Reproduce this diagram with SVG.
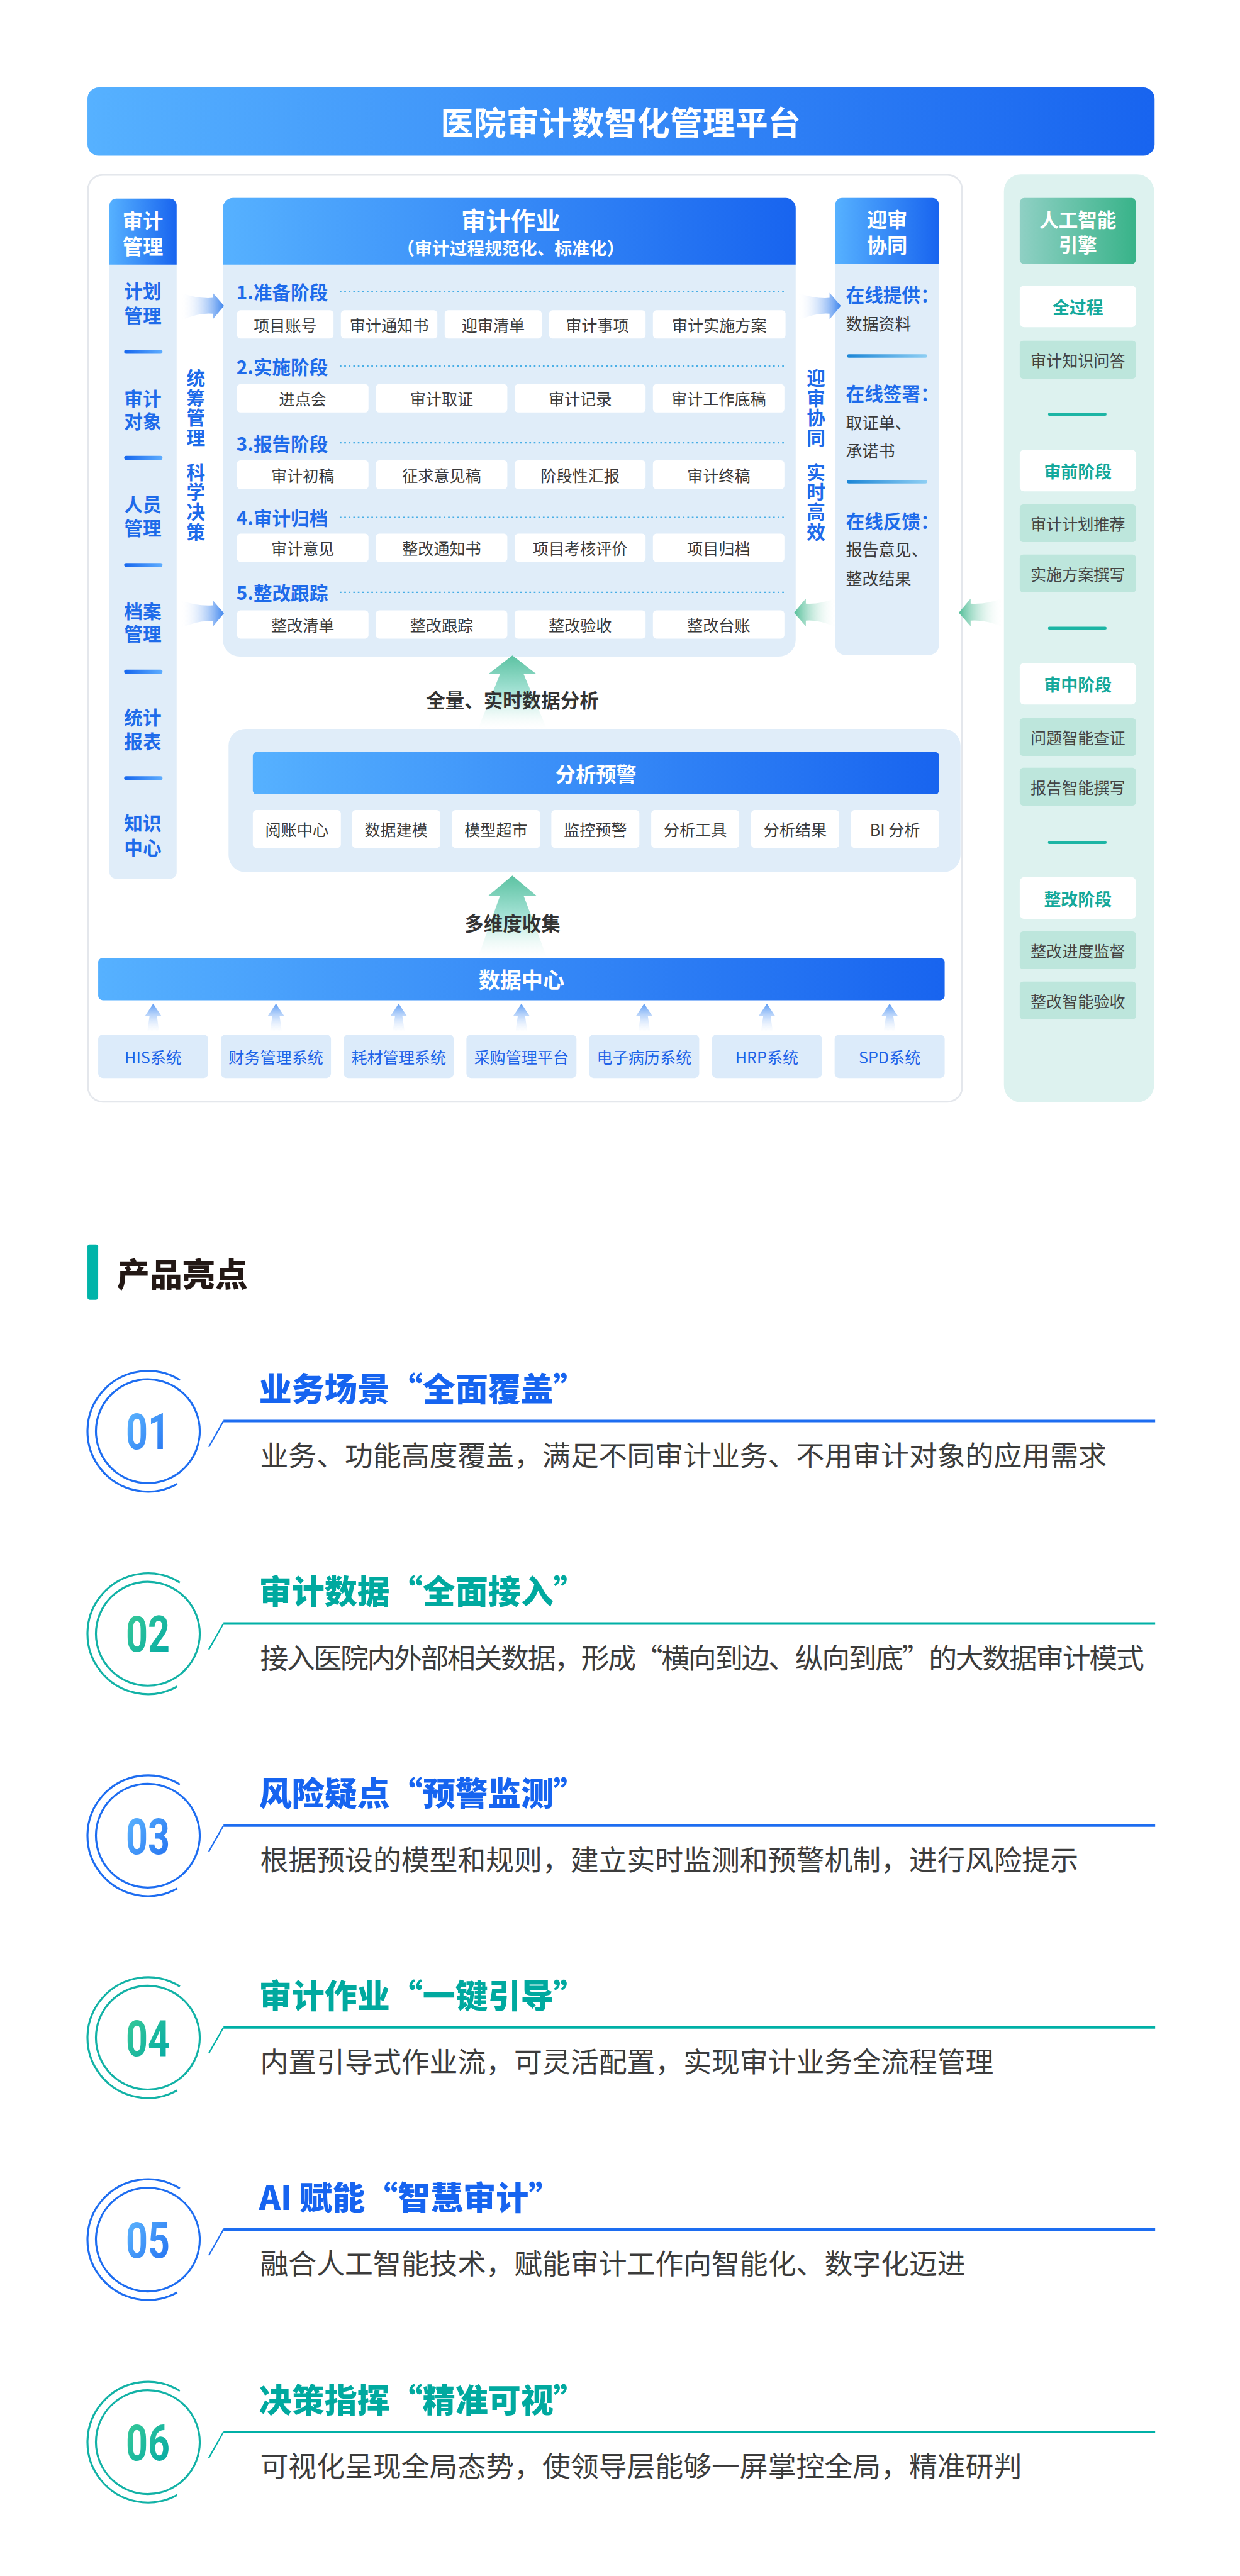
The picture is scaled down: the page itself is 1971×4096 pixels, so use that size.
<svg xmlns="http://www.w3.org/2000/svg" width="1971" height="4096" viewBox="0 0 1971 4096">
<defs>
<linearGradient id="gHead" x1="0" y1="0" x2="1" y2="0"><stop offset="0" stop-color="#56B1FF"/><stop offset="1" stop-color="#1864EF"/></linearGradient>
<linearGradient id="gAI" x1="0" y1="0" x2="1" y2="0"><stop offset="0" stop-color="#8FD0C4"/><stop offset="1" stop-color="#38B389"/></linearGradient>
<linearGradient id="gArrB" x1="0" y1="0" x2="1" y2="0"><stop offset="0" stop-color="#FFFFFF" stop-opacity="0"/><stop offset="1" stop-color="#3F86EE"/></linearGradient>
<linearGradient id="gArrG" x1="1" y1="0" x2="0" y2="0"><stop offset="0" stop-color="#FFFFFF" stop-opacity="0"/><stop offset="1" stop-color="#52BE98"/></linearGradient>
<linearGradient id="gUpG" x1="0" y1="0" x2="0" y2="1"><stop offset="0" stop-color="#5CC2A2"/><stop offset="0.5" stop-color="#A6E3D6"/><stop offset="1" stop-color="#FFFFFF" stop-opacity="0.2"/></linearGradient>
<linearGradient id="gUpB" x1="0" y1="0" x2="0" y2="1"><stop offset="0" stop-color="#5B9BF4"/><stop offset="1" stop-color="#FFFFFF" stop-opacity="0.3"/></linearGradient>
<linearGradient id="gDivB" x1="0" y1="0" x2="1" y2="0"><stop offset="0" stop-color="#1666EE"/><stop offset="1" stop-color="#5EADFF"/></linearGradient>
<linearGradient id="gDivC" x1="0" y1="0" x2="1" y2="0"><stop offset="0" stop-color="#1C86D6"/><stop offset="1" stop-color="#8FCFF4"/></linearGradient>
<linearGradient id="gNumB" x1="0" y1="0" x2="1" y2="1"><stop offset="0" stop-color="#62BBFF"/><stop offset="1" stop-color="#1F6DF0"/></linearGradient>
<linearGradient id="gNumT" x1="0" y1="0" x2="1" y2="1"><stop offset="0" stop-color="#3CCB96"/><stop offset="1" stop-color="#00A8A6"/></linearGradient>
<style>
text{font-family:"Noto Sans CJK SC","Noto Sans",sans-serif;}
.wt{fill:#FFFFFF;font-weight:700;text-anchor:middle;dominant-baseline:central;}
.lc{fill:#1E6BEA;font-weight:700;font-size:33px;text-anchor:middle;dominant-baseline:central;}
.vt{fill:#1E6BEA;font-weight:700;font-size:33px;text-anchor:middle;writing-mode:vertical-rl;letter-spacing:2.5px;}
.st{fill:#1E6BEA;font-weight:700;font-size:33px;dominant-baseline:central;}
.bx{fill:#FFFFFF;}
.bt{fill:#3A3A3A;font-size:28px;text-anchor:middle;dominant-baseline:central;}
.dot{stroke:#47AEE6;stroke-width:2.5;stroke-dasharray:3 5;fill:none;}
.ol{fill:#1E6BEA;font-weight:700;font-size:33px;dominant-baseline:central;}
.od{fill:#3A3A3A;font-size:29px;dominant-baseline:central;}
.aiw{fill:#FFFFFF;}
.aiwt{fill:#15A99C;font-weight:700;font-size:30px;text-anchor:middle;dominant-baseline:central;}
.aig{fill:#BDE6DC;}
.aigt{fill:#444444;font-size:28px;text-anchor:middle;dominant-baseline:central;}
.sys{fill:#DCEBFA;}
.syt{fill:#1E63E8;font-size:28px;text-anchor:middle;dominant-baseline:central;}
.lab{fill:#333333;font-weight:700;font-size:34px;text-anchor:middle;dominant-baseline:central;}
.ht{font-weight:900;font-size:58px;dominant-baseline:central;}
.hd{fill:#3C3C3C;font-size:50px;dominant-baseline:central;}
.num{font-family:Roboto,"Noto Sans",sans-serif;font-weight:700;font-size:88px;text-anchor:middle;}
</style>
</defs>
<g transform="scale(0.897)">
<rect width="2197" height="4565" fill="#FFFFFF"/>

<g id="title">
<rect x="155" y="155" width="1891" height="121" rx="20" fill="url(#gHead)"/>
<text class="wt" x="1100" y="215" font-size="58">医院审计数智化管理平台</text>
</g>

<g id="main-panel">
<rect x="156" y="310" width="1549" height="1643" rx="26" fill="#FFFFFF" stroke="#E4E7EC" stroke-width="3"/>
</g>

<g id="ai-panel">
<rect x="1779" y="309" width="266" height="1645" rx="30" fill="#DDF2EF"/>
</g>

<g id="audit-mgmt">
<path d="M194,364 a12,12 0 0 1 12,-12 h95 a12,12 0 0 1 12,12 V1546 a12,12 0 0 1 -12,12 h-95 a12,12 0 0 1 -12,-12 Z" fill="#E0EDF9"/>
<path d="M194,364 a12,12 0 0 1 12,-12 h95 a12,12 0 0 1 12,12 V469 H194 Z" fill="url(#gHead)"/>
<text class="wt" x="253" y="389" font-size="36">审计<tspan x="253" dy="46">管理</tspan></text>
<text class="lc" x="253" y="515">计划<tspan x="253" dy="42">管理</tspan></text>
<rect x="220" y="620" width="68" height="7" rx="3.5" fill="url(#gDivB)"/>
<text class="lc" x="253" y="705">审计<tspan x="253" dy="40">对象</tspan></text>
<rect x="220" y="808" width="68" height="7" rx="3.5" fill="url(#gDivB)"/>
<text class="lc" x="253" y="892">人员<tspan x="253" dy="42">管理</tspan></text>
<rect x="220" y="998" width="68" height="7" rx="3.5" fill="url(#gDivB)"/>
<text class="lc" x="253" y="1082">档案<tspan x="253" dy="40">管理</tspan></text>
<rect x="220" y="1187" width="68" height="7" rx="3.5" fill="url(#gDivB)"/>
<text class="lc" x="253" y="1270">统计<tspan x="253" dy="42">报表</tspan></text>
<rect x="220" y="1376" width="68" height="7" rx="3.5" fill="url(#gDivB)"/>
<text class="lc" x="253" y="1458">知识<tspan x="253" dy="42">中心</tspan></text>
</g>

<g id="left-vertical">
<text class="vt" x="347" y="724">统筹管理</text>
<text class="vt" x="347" y="891">科学决策</text>
</g>

<g id="audit-work">
<path d="M395,369 a18,18 0 0 1 18,-18 H1392 a18,18 0 0 1 18,18 V1134 a30,30 0 0 1 -30,30 H425 a30,30 0 0 1 -30,-30 Z" fill="#E0EDF9"/>
<path d="M395,369 a18,18 0 0 1 18,-18 H1392 a18,18 0 0 1 18,18 V469 H395 Z" fill="url(#gHead)"/>
<text class="wt" x="905" y="388" font-size="44">审计作业</text>
<text class="wt" x="905" y="438" font-size="31">（审计过程规范化、标准化）</text>

<text class="st" x="419" y="517">1.准备阶段</text>
<line class="dot" x1="602" y1="517" x2="1390" y2="517"/>
<rect class="bx" x="420" y="550" width="171" height="50" rx="6"/><text class="bt" x="505.5" y="575">项目账号</text>
<rect class="bx" x="604" y="550" width="171" height="50" rx="6"/><text class="bt" x="689.5" y="575">审计通知书</text>
<rect class="bx" x="788" y="550" width="172" height="50" rx="6"/><text class="bt" x="874" y="575">迎审清单</text>
<rect class="bx" x="973" y="550" width="171" height="50" rx="6"/><text class="bt" x="1058.5" y="575">审计事项</text>
<rect class="bx" x="1157" y="550" width="235" height="50" rx="6"/><text class="bt" x="1274.5" y="575">审计实施方案</text>

<text class="st" x="419" y="649">2.实施阶段</text>
<line class="dot" x1="602" y1="649" x2="1390" y2="649"/>
<rect class="bx" x="420" y="681" width="233" height="50" rx="6"/><text class="bt" x="536.5" y="706">进点会</text>
<rect class="bx" x="666" y="681" width="233" height="50" rx="6"/><text class="bt" x="782.5" y="706">审计取证</text>
<rect class="bx" x="912" y="681" width="232" height="50" rx="6"/><text class="bt" x="1028" y="706">审计记录</text>
<rect class="bx" x="1157" y="681" width="233" height="50" rx="6"/><text class="bt" x="1273.5" y="706">审计工作底稿</text>

<text class="st" x="419" y="785">3.报告阶段</text>
<line class="dot" x1="602" y1="785" x2="1390" y2="785"/>
<rect class="bx" x="420" y="816" width="233" height="51" rx="6"/><text class="bt" x="536.5" y="841.5">审计初稿</text>
<rect class="bx" x="666" y="816" width="233" height="51" rx="6"/><text class="bt" x="782.5" y="841.5">征求意见稿</text>
<rect class="bx" x="912" y="816" width="232" height="51" rx="6"/><text class="bt" x="1028" y="841.5">阶段性汇报</text>
<rect class="bx" x="1157" y="816" width="233" height="51" rx="6"/><text class="bt" x="1273.5" y="841.5">审计终稿</text>

<text class="st" x="419" y="917">4.审计归档</text>
<line class="dot" x1="602" y1="917" x2="1390" y2="917"/>
<rect class="bx" x="420" y="946" width="233" height="50" rx="6"/><text class="bt" x="536.5" y="971">审计意见</text>
<rect class="bx" x="666" y="946" width="233" height="50" rx="6"/><text class="bt" x="782.5" y="971">整改通知书</text>
<rect class="bx" x="912" y="946" width="232" height="50" rx="6"/><text class="bt" x="1028" y="971">项目考核评价</text>
<rect class="bx" x="1157" y="946" width="233" height="50" rx="6"/><text class="bt" x="1273.5" y="971">项目归档</text>

<text class="st" x="419" y="1050">5.整改跟踪</text>
<line class="dot" x1="602" y1="1050" x2="1390" y2="1050"/>
<rect class="bx" x="420" y="1082" width="233" height="50" rx="6"/><text class="bt" x="536.5" y="1107">整改清单</text>
<rect class="bx" x="666" y="1082" width="233" height="50" rx="6"/><text class="bt" x="782.5" y="1107">整改跟踪</text>
<rect class="bx" x="912" y="1082" width="232" height="50" rx="6"/><text class="bt" x="1028" y="1107">整改验收</text>
<rect class="bx" x="1157" y="1082" width="233" height="50" rx="6"/><text class="bt" x="1273.5" y="1107">整改台账</text>
</g>

<g id="right-vertical">
<text class="vt" x="1446" y="724">迎审协同</text>
<text class="vt" x="1446" y="891">实时高效</text>
</g>

<g id="audit-collab">
<path d="M1480,363 a12,12 0 0 1 12,-12 H1652 a12,12 0 0 1 12,12 V1143 a18,18 0 0 1 -18,18 H1498 a18,18 0 0 1 -18,-18 Z" fill="#E0EDF9"/>
<path d="M1480,363 a12,12 0 0 1 12,-12 H1652 a12,12 0 0 1 12,12 V468 H1480 Z" fill="url(#gHead)"/>
<text class="wt" x="1572" y="387" font-size="36">迎审<tspan x="1572" dy="46">协同</tspan></text>
<text class="ol" x="1499" y="521">在线提供：</text>
<text class="od" x="1499" y="573">数据资料</text>
<rect x="1501" y="628" width="142" height="6" rx="3" fill="url(#gDivC)"/>
<text class="ol" x="1499" y="696">在线签署：</text>
<text class="od" x="1499" y="747">取证单、<tspan x="1499" dy="50">承诺书</tspan></text>
<rect x="1501" y="851" width="142" height="6" rx="3" fill="url(#gDivC)"/>
<text class="ol" x="1499" y="923">在线反馈：</text>
<text class="od" x="1499" y="973">报告意见、<tspan x="1499" dy="50">整改结果</tspan></text>
</g>

<g id="ai-engine">
<rect x="1807" y="351" width="206" height="117" rx="8" fill="url(#gAI)"/>
<text class="wt" x="1910" y="388" font-size="34">人工智能<tspan x="1910" dy="44">引擎</tspan></text>
<rect class="aiw" x="1807" y="506" width="206" height="74" rx="8"/><text class="aiwt" x="1910" y="543">全过程</text>
<rect class="aig" x="1807" y="604" width="206" height="67" rx="6"/><text class="aigt" x="1910" y="637.5">审计知识问答</text>
<rect x="1857" y="732" width="104" height="5" rx="2.5" fill="#1CB5A4"/>
<rect class="aiw" x="1807" y="797" width="206" height="74" rx="8"/><text class="aiwt" x="1910" y="834">审前阶段</text>
<rect class="aig" x="1807" y="894" width="206" height="67" rx="6"/><text class="aigt" x="1910" y="927.5">审计计划推荐</text>
<rect class="aig" x="1807" y="983" width="206" height="67" rx="6"/><text class="aigt" x="1910" y="1016.5">实施方案撰写</text>
<rect x="1857" y="1111" width="104" height="5" rx="2.5" fill="#1CB5A4"/>
<rect class="aiw" x="1807" y="1175" width="206" height="74" rx="8"/><text class="aiwt" x="1910" y="1212">审中阶段</text>
<rect class="aig" x="1807" y="1273" width="206" height="67" rx="6"/><text class="aigt" x="1910" y="1306.5">问题智能查证</text>
<rect class="aig" x="1807" y="1361" width="206" height="67" rx="6"/><text class="aigt" x="1910" y="1394.5">报告智能撰写</text>
<rect x="1857" y="1491" width="104" height="5" rx="2.5" fill="#1CB5A4"/>
<rect class="aiw" x="1807" y="1555" width="206" height="74" rx="8"/><text class="aiwt" x="1910" y="1592">整改阶段</text>
<rect class="aig" x="1807" y="1651" width="206" height="67" rx="6"/><text class="aigt" x="1910" y="1684.5">整改进度监督</text>
<rect class="aig" x="1807" y="1740" width="206" height="67" rx="6"/><text class="aigt" x="1910" y="1773.5">整改智能验收</text>
</g>

<g id="analysis">
<rect x="405" y="1292" width="1297" height="254" rx="30" fill="#E0EDF9"/>
<rect x="448" y="1333" width="1216" height="75" rx="7" fill="url(#gHead)"/>
<text class="wt" x="1056" y="1370" font-size="36">分析预警</text>
<rect class="bx" x="448" y="1436" width="156" height="67" rx="6"/><text class="bt" x="526" y="1469.5">阅账中心</text>
<rect class="bx" x="624" y="1436" width="156" height="67" rx="6"/><text class="bt" x="702" y="1469.5">数据建模</text>
<rect class="bx" x="801" y="1436" width="156" height="67" rx="6"/><text class="bt" x="879" y="1469.5">模型超市</text>
<rect class="bx" x="977" y="1436" width="156" height="67" rx="6"/><text class="bt" x="1055" y="1469.5">监控预警</text>
<rect class="bx" x="1154" y="1436" width="156" height="67" rx="6"/><text class="bt" x="1232" y="1469.5">分析工具</text>
<rect class="bx" x="1331" y="1436" width="156" height="67" rx="6"/><text class="bt" x="1409" y="1469.5">分析结果</text>
<rect class="bx" x="1508" y="1436" width="156" height="67" rx="6"/><text class="bt" x="1586" y="1469.5">BI 分析</text>
</g>

<g id="data-center">
<rect x="174" y="1698" width="1500" height="75" rx="8" fill="url(#gHead)"/>
<text class="wt" x="924" y="1735" font-size="38">数据中心</text>
</g>

<g id="systems">
<rect class="sys" x="174" y="1834" width="195" height="77" rx="8"/><text class="syt" x="271.5" y="1872.5">HIS系统</text>
<rect class="sys" x="391.5" y="1834" width="195" height="77" rx="8"/><text class="syt" x="489" y="1872.5">财务管理系统</text>
<rect class="sys" x="609" y="1834" width="195" height="77" rx="8"/><text class="syt" x="706.5" y="1872.5">耗材管理系统</text>
<rect class="sys" x="826.5" y="1834" width="195" height="77" rx="8"/><text class="syt" x="924" y="1872.5">采购管理平台</text>
<rect class="sys" x="1044" y="1834" width="195" height="77" rx="8"/><text class="syt" x="1141.5" y="1872.5">电子病历系统</text>
<rect class="sys" x="1261.5" y="1834" width="195" height="77" rx="8"/><text class="syt" x="1359" y="1872.5">HRP系统</text>
<rect class="sys" x="1479" y="1834" width="195" height="77" rx="8"/><text class="syt" x="1576.5" y="1872.5">SPD系统</text>
</g>

<g id="connectors">
<path d="M320,519 Q350,530 377,528 L377,519 L397,542 L377,566 L377,556 Q348,554 320,569 Z" fill="url(#gArrB)"/>
<path d="M320,1064 Q350,1075 377,1073 L377,1064 L397,1087 L377,1111 L377,1101 Q348,1099 320,1114 Z" fill="url(#gArrB)"/>
<path d="M1414,519 Q1444,530 1470,528 L1470,519 L1490,542 L1470,566 L1470,556 Q1442,554 1414,569 Z" fill="url(#gArrB)"/>
<path d="M1482,1060 Q1452,1072 1428,1070 L1428,1061 L1407,1086 L1428,1110 L1428,1100 Q1452,1098 1482,1112 Z" fill="url(#gArrG)"/>
<path d="M1778,1060 Q1748,1072 1720,1070 L1720,1061 L1699,1086 L1720,1110 L1720,1100 Q1748,1098 1778,1112 Z" fill="url(#gArrG)"/>
<path d="M908,1162 L951,1195 L928,1195 L969,1292 L847,1292 L886,1195 L865,1195 Z" fill="url(#gUpG)"/>
<path d="M908,1552 L951,1588 L928,1588 L969,1697 L847,1697 L886,1588 L865,1588 Z" fill="url(#gUpG)"/>
<g fill="url(#gUpB)">
<path d="M271.5,1779 L286,1801 L278,1801 L282,1829 L261,1829 L265,1801 L257,1801 Z"/>
<path d="M489,1779 L503.5,1801 L495.5,1801 L499.5,1829 L478.5,1829 L482.5,1801 L474.5,1801 Z"/>
<path d="M706.5,1779 L721,1801 L713,1801 L717,1829 L696,1829 L700,1801 L692,1801 Z"/>
<path d="M924,1779 L938.5,1801 L930.5,1801 L934.5,1829 L913.5,1829 L917.5,1801 L909.5,1801 Z"/>
<path d="M1141.5,1779 L1156,1801 L1148,1801 L1152,1829 L1131,1829 L1135,1801 L1127,1801 Z"/>
<path d="M1359,1779 L1373.5,1801 L1365.5,1801 L1369.5,1829 L1348.5,1829 L1352.5,1801 L1344.5,1801 Z"/>
<path d="M1576.5,1779 L1591,1801 L1583,1801 L1587,1829 L1566,1829 L1570,1801 L1562,1801 Z"/>
</g>
<text class="lab" x="908" y="1240">全量、实时数据分析</text>
<text class="lab" x="908" y="1635">多维度收集</text>
</g>

<g id="highlights-header">
<rect x="155" y="2206" width="19" height="98" rx="4" fill="#00B4A9"/>
<text x="207" y="2256" font-size="58" font-weight="900" fill="#231815" dominant-baseline="central">产品亮点</text>
</g>

<g id="item01" transform="translate(0,2537)">
<circle cx="262" cy="0" r="92" fill="none" stroke="#1D6DF1" stroke-width="3.5"/>
<path d="M318.7,-90.7 A107,107 0 1 0 313.9,93.6" fill="none" stroke="#1D6DF1" stroke-width="3.5"/>
<path d="M396,-18 H2047" stroke="#1D6DF1" stroke-width="4.5"/>
<path d="M396,-18 L370,28" stroke="#1D6DF1" stroke-width="2.5"/>
<text class="num" x="262" y="32" fill="url(#gNumB)" textLength="78" lengthAdjust="spacingAndGlyphs">01</text>
<text class="ht" x="459" y="-78" fill="#1664F0">业务场景“全面覆盖”</text>
<text class="hd" x="461" y="40">业务、功能高度覆盖，满足不同审计业务、不用审计对象的应用需求</text>
</g>
<g id="item02" transform="translate(0,2896)">
<circle cx="262" cy="0" r="92" fill="none" stroke="#12B2A6" stroke-width="3.5"/>
<path d="M318.7,-90.7 A107,107 0 1 0 313.9,93.6" fill="none" stroke="#12B2A6" stroke-width="3.5"/>
<path d="M396,-18 H2047" stroke="#00B0A6" stroke-width="4.5"/>
<path d="M396,-18 L370,28" stroke="#00B0A6" stroke-width="2.5"/>
<text class="num" x="262" y="32" fill="url(#gNumT)" textLength="78" lengthAdjust="spacingAndGlyphs">02</text>
<text class="ht" x="459" y="-78" fill="#00A99F">审计数据“全面接入”</text>
<text class="hd" x="461" y="40" style="letter-spacing:-2.6px">接入医院内外部相关数据，形成“横向到边、纵向到底”的大数据审计模式</text>
</g>
<g id="item03" transform="translate(0,3254)">
<circle cx="262" cy="0" r="92" fill="none" stroke="#1D6DF1" stroke-width="3.5"/>
<path d="M318.7,-90.7 A107,107 0 1 0 313.9,93.6" fill="none" stroke="#1D6DF1" stroke-width="3.5"/>
<path d="M396,-18 H2047" stroke="#1D6DF1" stroke-width="4.5"/>
<path d="M396,-18 L370,28" stroke="#1D6DF1" stroke-width="2.5"/>
<text class="num" x="262" y="32" fill="url(#gNumB)" textLength="78" lengthAdjust="spacingAndGlyphs">03</text>
<text class="ht" x="459" y="-78" fill="#1664F0">风险疑点“预警监测”</text>
<text class="hd" x="461" y="40">根据预设的模型和规则，建立实时监测和预警机制，进行风险提示</text>
</g>
<g id="item04" transform="translate(0,3612)">
<circle cx="262" cy="0" r="92" fill="none" stroke="#12B2A6" stroke-width="3.5"/>
<path d="M318.7,-90.7 A107,107 0 1 0 313.9,93.6" fill="none" stroke="#12B2A6" stroke-width="3.5"/>
<path d="M396,-18 H2047" stroke="#00B0A6" stroke-width="4.5"/>
<path d="M396,-18 L370,28" stroke="#00B0A6" stroke-width="2.5"/>
<text class="num" x="262" y="32" fill="url(#gNumT)" textLength="78" lengthAdjust="spacingAndGlyphs">04</text>
<text class="ht" x="459" y="-78" fill="#00A99F">审计作业“一键引导”</text>
<text class="hd" x="461" y="40">内置引导式作业流，可灵活配置，实现审计业务全流程管理</text>
</g>
<g id="item05" transform="translate(0,3970)">
<circle cx="262" cy="0" r="92" fill="none" stroke="#1D6DF1" stroke-width="3.5"/>
<path d="M318.7,-90.7 A107,107 0 1 0 313.9,93.6" fill="none" stroke="#1D6DF1" stroke-width="3.5"/>
<path d="M396,-18 H2047" stroke="#1D6DF1" stroke-width="4.5"/>
<path d="M396,-18 L370,28" stroke="#1D6DF1" stroke-width="2.5"/>
<text class="num" x="262" y="32" fill="url(#gNumB)" textLength="78" lengthAdjust="spacingAndGlyphs">05</text>
<text class="ht" x="459" y="-78" fill="#1664F0">AI 赋能“智慧审计”</text>
<text class="hd" x="461" y="40">融合人工智能技术，赋能审计工作向智能化、数字化迈进</text>
</g>
<g id="item06" transform="translate(0,4329)">
<circle cx="262" cy="0" r="92" fill="none" stroke="#12B2A6" stroke-width="3.5"/>
<path d="M318.7,-90.7 A107,107 0 1 0 313.9,93.6" fill="none" stroke="#12B2A6" stroke-width="3.5"/>
<path d="M396,-18 H2047" stroke="#00B0A6" stroke-width="4.5"/>
<path d="M396,-18 L370,28" stroke="#00B0A6" stroke-width="2.5"/>
<text class="num" x="262" y="32" fill="url(#gNumT)" textLength="78" lengthAdjust="spacingAndGlyphs">06</text>
<text class="ht" x="459" y="-78" fill="#00A99F">决策指挥“精准可视”</text>
<text class="hd" x="461" y="40">可视化呈现全局态势，使领导层能够一屏掌控全局，精准研判</text>
</g>
</g>
</svg>
